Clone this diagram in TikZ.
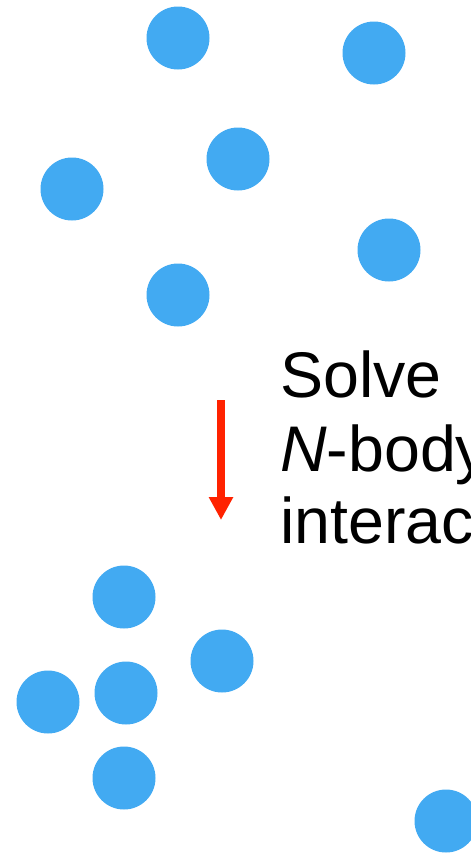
\documentclass[tikz,border=0pt]{standalone}
\usepackage{fontspec}
\setmainfont{Liberation Sans}
\usetikzlibrary{arrows.meta}
\definecolor{dotblue}{RGB}{66,170,242}
\definecolor{arrred}{RGB}{255,34,0}
\begin{document}
\begin{tikzpicture}[x=1pt,y=-1pt,
  dot/.style={circle,fill=dotblue,draw=none,minimum size=63pt,inner sep=0pt},
  lbl/.style={anchor=base west,inner sep=0pt,font=\fontsize{64.5}{73}\selectfont}]
\useasboundingbox (0,0) rectangle (471,854);
\clip (0,0) rectangle (471,854);
\node[dot] (c1) at (178,38) {};
\node[dot] (c2) at (374,53) {};
\node[dot] (c3) at (238,159) {};
\node[dot] (c4) at (72,189) {};
\node[dot] (c5) at (389,250) {};
\node[dot] (c6) at (178,295) {};
\node[dot] (c7) at (124,597) {};
\node[dot] (c8) at (222,661) {};
\node[dot] (c9) at (48,702) {};
\node[dot] (c10) at (126,693) {};
\node[dot] (c11) at (124,778) {};
\node[dot] (c12) at (446,821) {};
\coordinate (a1) at (221,400);
\coordinate (a2) at (221,520);
\draw[arrred,line width=8pt,-{Triangle[width=23pt,length=23pt]}] (a1) -- (a2);
\node[lbl] (t1) at (280,397) {Solve};
\node[lbl] (t2) at (280,471) {\textit{N}-body};
\node[lbl] (t3) at (280,543) {interactions};
\end{tikzpicture}
\end{document}
